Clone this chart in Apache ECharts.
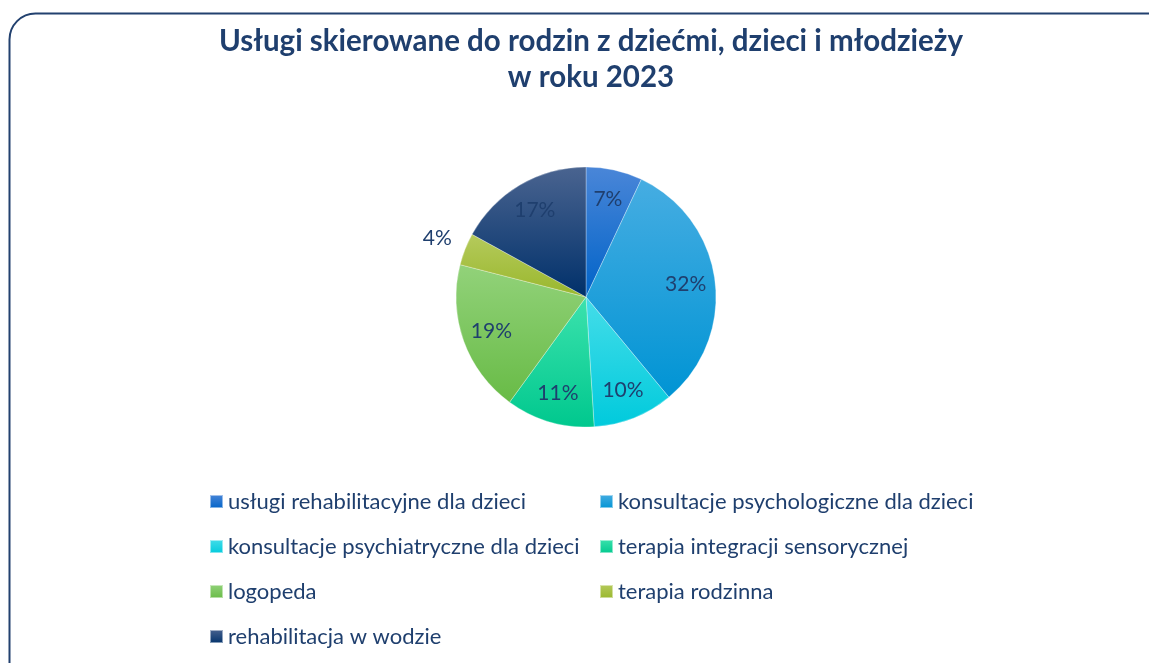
<!DOCTYPE html>
<html>
<head>
<meta charset="utf-8">
<script src="https://cdn.jsdelivr.net/npm/echarts@6/dist/echarts.min.js"></script>
<style>
html,body{margin:0;padding:0;background:#fff;}
#chart{width:1149px;height:663px;}
</style>
</head>
<body>
<div id="chart"></div>
<script>
const titleText = 'Usługi skierowane do rodzin z dziećmi, dzieci i młodzieży\nw roku 2023';
const categories = [
  'usługi rehabilitacyjne dla dzieci',
  'konsultacje psychologiczne dla dzieci',
  'konsultacje psychiatryczne dla dzieci',
  'terapia integracji sensorycznej',
  'logopeda',
  'terapia rodzinna',
  'rehabilitacja w wodzie'
];
const values = [7, 32, 10, 11, 19, 4, 17];
const outsideLabelItems = ['terapia rodzinna'];
const topColors = ['#4a86d8', '#46ade2', '#45dde9', '#3ce2ad', '#92d27a', '#b5ca5c', '#4a6490'];
const bottomColors = ['#0063c8', '#0094d4', '#00cadc', '#00c88e', '#68bb46', '#99b72c', '#00306a'];

const textColor = '#1f3f6e';
const grad = (i) => ({
  type: 'linear', x: 0, y: 0, x2: 0, y2: 1,
  colorStops: [{offset: 0, color: topColors[i]}, {offset: 1, color: bottomColors[i]}]
});

const mainData = categories.map((n, i) => ({
  name: n, value: values[i],
  itemStyle: {color: grad(i)}
}));
const innerLabelData = categories.map((n, i) => ({
  name: n, value: values[i],
  label: {show: outsideLabelItems.indexOf(n) < 0}
}));
const outerLabelData = categories.map((n, i) => ({
  name: n, value: values[i],
  label: {show: outsideLabelItems.indexOf(n) >= 0}
}));

const chart = echarts.init(document.getElementById('chart'), null, {renderer: 'canvas'});
const center = [586, 297];
const labelStyle = {position: 'inside', formatter: '{c}%', fontFamily: 'Lato', fontSize: 21, color: textColor};
chart.setOption({
  animation: false,
  title: {
    text: titleText,
    left: 591, top: 23, textAlign: 'center', padding: 0,
    textStyle: {fontFamily: 'Lato', fontSize: 29.5, fontWeight: 'bold', color: textColor, lineHeight: 36}
  },
  legend: {
    data: categories,
    left: 209, top: 484, width: 800,
    padding: 0,
    orient: 'horizontal',
    itemWidth: 13, itemHeight: 13, itemGap: 10,
    icon: 'rect',
    selectedMode: false,
    textStyle: {fontFamily: 'Lato', fontSize: 22, color: textColor, width: 361, lineHeight: 35, overflow: 'none'}
  },
  graphic: [{
    type: 'rect', silent: true,
    shape: {x: 9.5, y: 13.5, width: 1170, height: 700, r: 26},
    style: {fill: 'none', stroke: '#22416f', lineWidth: 2}
  }],
  series: [
    {
      type: 'pie', center: center, radius: [0, 130],
      startAngle: 90, clockwise: true,
      label: {show: false}, labelLine: {show: false},
      itemStyle: {borderColor: 'rgba(255,255,255,0.5)', borderWidth: 0.6},
      emphasis: {disabled: true},
      data: mainData
    },
    {
      type: 'pie', center: center, radius: [65, 130],
      startAngle: 90, clockwise: true, silent: true,
      itemStyle: {color: 'rgba(0,0,0,0)'},
      label: labelStyle,
      labelLine: {show: false},
      emphasis: {disabled: true},
      data: innerLabelData
    },
    {
      type: 'pie', center: center, radius: [144, 170],
      startAngle: 90, clockwise: true, silent: true,
      itemStyle: {color: 'rgba(0,0,0,0)'},
      label: labelStyle,
      labelLine: {show: false},
      emphasis: {disabled: true},
      data: outerLabelData
    }
  ]
});
</script>
</body>
</html>
